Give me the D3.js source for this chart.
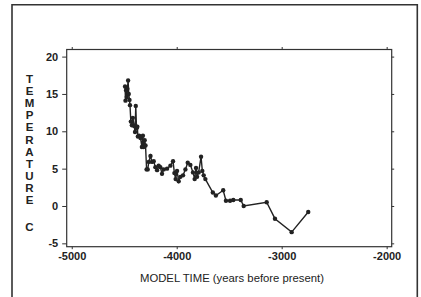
<!DOCTYPE html>
<html><head><meta charset="utf-8">
<script src="https://cdn.jsdelivr.net/npm/d3@7"></script>
<style>html,body{margin:0;padding:0;background:#fff;}svg{display:block;}</style>
</head><body>
<svg id="chart" width="421" height="297"></svg>
<script>
const years = [-4492,-4488,-4482,-4476,-4470,-4463,-4457,-4450,-4445,-4437,-4427,-4418,-4405,-4397,-4390,-4383,-4375,-4370,-4358,-4345,-4332,-4322,-4315,-4305,-4297,-4287,-4276,-4266,-4250,-4235,-4219,-4203,-4187,-4172,-4156,-4140,-4124,-4092,-4060,-4035,-4022,-4010,-3997,-3981,-3965,-3940,-3917,-3895,-3870,-3845,-3829,-3816,-3806,-3791,-3768,-3756,-3743,-3727,-3656,-3627,-3557,-3531,-3492,-3461,-3390,-3362,-3143,-3064,-2905,-2747];
const temps = [16.0,14.1,15.5,14.6,15.7,16.8,15.0,14.2,13.5,11.3,10.8,11.8,10.7,9.9,13.4,10.4,10.6,9.3,9.4,9.1,7.9,9.4,7.9,8.8,8.1,4.9,4.9,5.9,6.7,5.9,6.0,5.2,4.8,5.4,5.2,4.3,4.9,5.0,5.4,6.0,4.4,3.6,4.7,3.3,3.9,4.1,4.9,5.8,5.5,4.5,3.6,5.1,3.9,4.5,6.6,4.7,4.1,3.6,1.8,1.4,2.1,0.7,0.7,0.8,0.8,0.0,0.5,-1.7,-3.5,-0.8];
const xTicks = [-5000,-4000,-3000,-2000];
const yTicks = [-5,0,5,10,15,20];
const yTitle = "TEMPERATURE";
const yUnit = "C";
const xTitle = "MODEL TIME (years before present)";

const svg = d3.select("#chart");
const L = 66.7, R = 391.7, T = 49.5, B = 246.7;
const x = d3.scaleLinear().domain([-5048, -1952]).range([L, R]);
const y = d3.scaleLinear().domain([-5.45, 20.95]).range([B, T]);
const ink = "#222";
const font = "'Liberation Sans', Arial, sans-serif";

// outer frame
svg.append("path").attr("d", "M12,297.5 V4.7 H417.3 V297.5")
  .attr("fill", "none").attr("stroke", "#333").attr("stroke-width", 1.6);

// plot box
svg.append("rect").attr("x", L).attr("y", T).attr("width", R - L).attr("height", B - T)
  .attr("fill", "none").attr("stroke", "#333").attr("stroke-width", 1.2);

// axes
const axL = svg.append("g").attr("transform", `translate(${L},0)`)
  .call(d3.axisLeft(y).tickValues(yTicks).tickSize(4.5).tickPadding(4).tickFormat(d3.format("d")));
const axB = svg.append("g").attr("transform", `translate(0,${B})`)
  .call(d3.axisBottom(x).tickValues(xTicks).tickSize(2.5).tickPadding(3).tickFormat(d3.format("d")));
const axT = svg.append("g").attr("transform", `translate(0,${T})`)
  .call(d3.axisTop(x).tickValues(xTicks).tickSize(2.5).tickFormat(""));
const axR = svg.append("g").attr("transform", `translate(${R},0)`)
  .call(d3.axisRight(y).tickValues(yTicks).tickSize(2.5).tickFormat(""));
[axL, axB, axT, axR].forEach(g => {
  g.select(".domain").remove();
  g.selectAll("line").attr("stroke", "#333").attr("stroke-width", 1);
  g.selectAll("text").attr("fill", ink).attr("font-family", font)
    .attr("font-size", 11).attr("font-weight", "bold").text(function(){ return this.textContent.replace("−","-"); });
});

// line + markers
const pts = years.map((d, i) => [d, temps[i]]);
svg.append("path").datum(pts)
  .attr("d", d3.line().x(d => x(d[0])).y(d => y(d[1])))
  .attr("fill", "none").attr("stroke", ink).attr("stroke-width", 1.4);
svg.append("g").selectAll("circle").data(pts).join("circle")
  .attr("cx", d => x(d[0])).attr("cy", d => y(d[1])).attr("r", 2.2).attr("fill", ink);

// y title stacked letters
const yt = svg.append("g").attr("font-family", font).attr("font-size", 11.5)
  .attr("font-weight", "bold").attr("fill", ink).attr("text-anchor", "middle");
yTitle.split("").forEach((c, i) => {
  yt.append("text").attr("x", 29.5).attr("y", 83 + i * 12.1).text(c);
});
yt.append("text").attr("x", 29.5).attr("y", 231).text(yUnit);

// x title
svg.append("text").attr("x", 232).attr("y", 282).attr("text-anchor", "middle")
  .attr("font-family", font).attr("font-size", 11.3).attr("fill", ink).text(xTitle);
</script>
</body></html>
